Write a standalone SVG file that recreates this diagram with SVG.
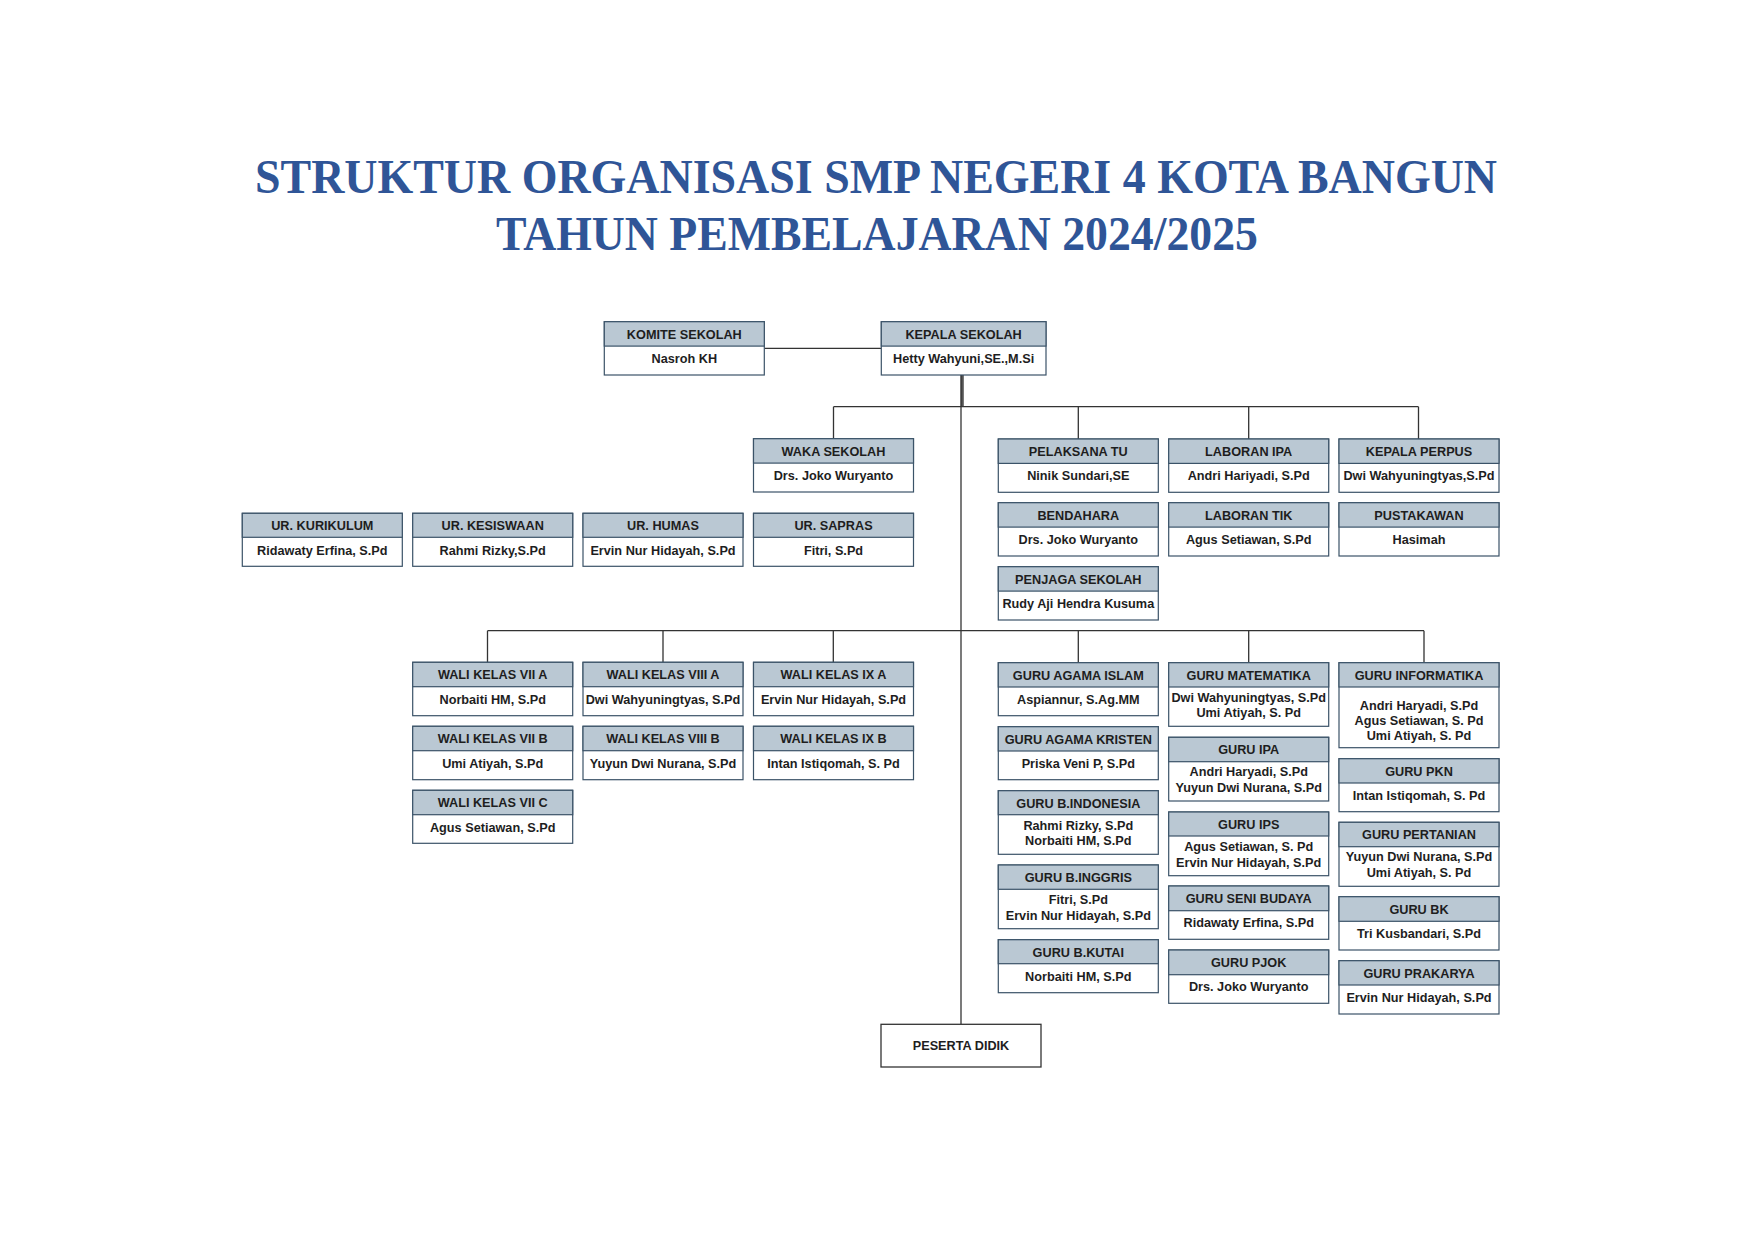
<svg xmlns="http://www.w3.org/2000/svg" width="1754" height="1241" viewBox="0 0 1754 1241">
<style>
.bd{fill:#ffffff;stroke:#3b5368;stroke-width:1.2}
.hd{fill:#bac8d3;stroke:#3b5368;stroke-width:1.2}
.t{font-family:"Liberation Sans",Arial,sans-serif;font-weight:bold;font-size:12.7px;fill:#1e1e1e;text-anchor:middle}
.ttl{font-family:"Liberation Serif","Times New Roman",serif;font-weight:bold;font-size:48px;fill:#2f5597;text-anchor:middle}
.ln{fill:none;stroke:#333333;stroke-width:1.3}
</style>
<rect width="1754" height="1241" fill="#ffffff"/>
<text class="ttl" x="876" y="193.3" textLength="1242" lengthAdjust="spacingAndGlyphs">STRUKTUR ORGANISASI SMP NEGERI 4 KOTA BANGUN</text>
<text class="ttl" x="877" y="250.3" textLength="762" lengthAdjust="spacingAndGlyphs">TAHUN PEMBELAJARAN 2024/2025</text>

<g id="connectors">
<path class="ln" d="M764.3 348.3H881.3"/>
<path d="M962.3 375V407" fill="none" stroke="#555555" stroke-width="3"/>
<path class="ln" d="M961 375V1024.3"/>
<path class="ln" d="M833.5 406.7H1418.5M833.5 406.7V438.7M1078.3 406.7V439M1248.7 406.7V439M1418.5 406.7V439"/>
<path class="ln" d="M487.5 630.7H1424M487.5 630.7V662.3M663 630.7V662.3M833.3 630.7V662.3M1078.3 630.7V662.7M1248.7 630.7V662.7M1424 630.7V662.7"/>
</g>

<g id="komite"><rect class="bd" x="604.3" y="321.7" width="160" height="53.3"/><rect class="hd" x="604.3" y="321.7" width="160" height="24.4"/><text class="t" x="684.3" y="338.5">KOMITE SEKOLAH</text><text class="t" x="684.3" y="363.1">Nasroh KH</text></g>
<g id="kepala"><rect class="bd" x="881.3" y="321.7" width="164.7" height="53.3"/><rect class="hd" x="881.3" y="321.7" width="164.7" height="24.4"/><text class="t" x="963.6" y="338.5">KEPALA SEKOLAH</text><text class="t" x="963.6" y="363.1">Hetty Wahyuni,SE.,M.Si</text></g>
<g id="waka"><rect class="bd" x="753.5" y="438.7" width="160" height="53.3"/><rect class="hd" x="753.5" y="438.7" width="160" height="24.4"/><text class="t" x="833.5" y="455.5">WAKA SEKOLAH</text><text class="t" x="833.5" y="480.1">Drs. Joko Wuryanto</text></g>

<g id="pelaksana-tu"><rect class="bd" x="998.3" y="439" width="160" height="53.3"/><rect class="hd" x="998.3" y="439" width="160" height="24.4"/><text class="t" x="1078.3" y="455.8">PELAKSANA TU</text><text class="t" x="1078.3" y="480.4">Ninik Sundari,SE</text></g>
<g id="laboran-ipa"><rect class="bd" x="1168.7" y="439" width="160" height="53.3"/><rect class="hd" x="1168.7" y="439" width="160" height="24.4"/><text class="t" x="1248.7" y="455.8">LABORAN IPA</text><text class="t" x="1248.7" y="480.4">Andri Hariyadi, S.Pd</text></g>
<g id="kepala-perpus"><rect class="bd" x="1339" y="439" width="160" height="53.3"/><rect class="hd" x="1339" y="439" width="160" height="24.4"/><text class="t" x="1419" y="455.8">KEPALA PERPUS</text><text class="t" x="1419" y="480.4">Dwi Wahyuningtyas,S.Pd</text></g>
<g id="bendahara"><rect class="bd" x="998.3" y="502.7" width="160" height="53.3"/><rect class="hd" x="998.3" y="502.7" width="160" height="24.4"/><text class="t" x="1078.3" y="519.5">BENDAHARA</text><text class="t" x="1078.3" y="544.1">Drs. Joko Wuryanto</text></g>
<g id="laboran-tik"><rect class="bd" x="1168.7" y="502.7" width="160" height="53.3"/><rect class="hd" x="1168.7" y="502.7" width="160" height="24.4"/><text class="t" x="1248.7" y="519.5">LABORAN TIK</text><text class="t" x="1248.7" y="544.1">Agus Setiawan, S.Pd</text></g>
<g id="pustakawan"><rect class="bd" x="1339" y="502.7" width="160" height="53.3"/><rect class="hd" x="1339" y="502.7" width="160" height="24.4"/><text class="t" x="1419" y="519.5">PUSTAKAWAN</text><text class="t" x="1419" y="544.1">Hasimah</text></g>
<g id="penjaga"><rect class="bd" x="998.3" y="566.7" width="160" height="53.3"/><rect class="hd" x="998.3" y="566.7" width="160" height="24.4"/><text class="t" x="1078.3" y="583.5">PENJAGA SEKOLAH</text><text class="t" x="1078.3" y="608.1">Rudy Aji Hendra Kusuma</text></g>

<g id="ur-kurikulum"><rect class="bd" x="242.3" y="513.3" width="160" height="53"/><rect class="hd" x="242.3" y="513.3" width="160" height="24"/><text class="t" x="322.3" y="530.1">UR. KURIKULUM</text><text class="t" x="322.3" y="554.7">Ridawaty Erfina, S.Pd</text></g>
<g id="ur-kesiswaan"><rect class="bd" x="412.7" y="513.3" width="160" height="53"/><rect class="hd" x="412.7" y="513.3" width="160" height="24"/><text class="t" x="492.7" y="530.1">UR. KESISWAAN</text><text class="t" x="492.7" y="554.7">Rahmi Rizky,S.Pd</text></g>
<g id="ur-humas"><rect class="bd" x="583" y="513.3" width="160" height="53"/><rect class="hd" x="583" y="513.3" width="160" height="24"/><text class="t" x="663" y="530.1">UR. HUMAS</text><text class="t" x="663" y="554.7">Ervin Nur Hidayah, S.Pd</text></g>
<g id="ur-sapras"><rect class="bd" x="753.5" y="513.3" width="160" height="53"/><rect class="hd" x="753.5" y="513.3" width="160" height="24"/><text class="t" x="833.5" y="530.1">UR. SAPRAS</text><text class="t" x="833.5" y="554.7">Fitri, S.Pd</text></g>

<g id="wali-7a"><rect class="bd" x="412.7" y="662.3" width="160" height="53.4"/><rect class="hd" x="412.7" y="662.3" width="160" height="24.4"/><text class="t" x="492.7" y="679.1">WALI KELAS VII A</text><text class="t" x="492.7" y="703.7">Norbaiti HM, S.Pd</text></g>
<g id="wali-8a"><rect class="bd" x="583" y="662.3" width="160" height="53.4"/><rect class="hd" x="583" y="662.3" width="160" height="24.4"/><text class="t" x="663" y="679.1">WALI KELAS VIII A</text><text class="t" x="663" y="703.7">Dwi Wahyuningtyas, S.Pd</text></g>
<g id="wali-9a"><rect class="bd" x="753.5" y="662.3" width="160" height="53.4"/><rect class="hd" x="753.5" y="662.3" width="160" height="24.4"/><text class="t" x="833.5" y="679.1">WALI KELAS IX A</text><text class="t" x="833.5" y="703.7">Ervin Nur Hidayah, S.Pd</text></g>
<g id="wali-7b"><rect class="bd" x="412.7" y="726.3" width="160" height="53.4"/><rect class="hd" x="412.7" y="726.3" width="160" height="24.4"/><text class="t" x="492.7" y="743.1">WALI KELAS VII B</text><text class="t" x="492.7" y="767.7">Umi Atiyah, S.Pd</text></g>
<g id="wali-8b"><rect class="bd" x="583" y="726.3" width="160" height="53.4"/><rect class="hd" x="583" y="726.3" width="160" height="24.4"/><text class="t" x="663" y="743.1">WALI KELAS VIII B</text><text class="t" x="663" y="767.7">Yuyun Dwi Nurana, S.Pd</text></g>
<g id="wali-9b"><rect class="bd" x="753.5" y="726.3" width="160" height="53.4"/><rect class="hd" x="753.5" y="726.3" width="160" height="24.4"/><text class="t" x="833.5" y="743.1">WALI KELAS IX B</text><text class="t" x="833.5" y="767.7">Intan Istiqomah, S. Pd</text></g>
<g id="wali-7c"><rect class="bd" x="412.7" y="790.3" width="160" height="53"/><rect class="hd" x="412.7" y="790.3" width="160" height="24.4"/><text class="t" x="492.7" y="807.1">WALI KELAS VII C</text><text class="t" x="492.7" y="831.7">Agus Setiawan, S.Pd</text></g>

<g id="guru-agama-islam"><rect class="bd" x="998.3" y="662.7" width="160" height="53"/><rect class="hd" x="998.3" y="662.7" width="160" height="24.3"/><text class="t" x="1078.3" y="679.5">GURU AGAMA ISLAM</text><text class="t" x="1078.3" y="704.1">Aspiannur, S.Ag.MM</text></g>
<g id="guru-agama-kristen"><rect class="bd" x="998.3" y="726.7" width="160" height="53"/><rect class="hd" x="998.3" y="726.7" width="160" height="24.3"/><text class="t" x="1078.3" y="743.5">GURU AGAMA KRISTEN</text><text class="t" x="1078.3" y="768.1">Priska Veni P, S.Pd</text></g>
<g id="guru-bindonesia"><rect class="bd" x="998.3" y="790.7" width="160" height="63.6"/><rect class="hd" x="998.3" y="790.7" width="160" height="24"/><text class="t" x="1078.3" y="807.5">GURU B.INDONESIA</text><text class="t" x="1078.3" y="829.7">Rahmi Rizky, S.Pd</text><text class="t" x="1078.3" y="845.3">Norbaiti HM, S.Pd</text></g>
<g id="guru-binggris"><rect class="bd" x="998.3" y="865" width="160" height="63.7"/><rect class="hd" x="998.3" y="865" width="160" height="24.3"/><text class="t" x="1078.3" y="881.8">GURU B.INGGRIS</text><text class="t" x="1078.3" y="904">Fitri, S.Pd</text><text class="t" x="1078.3" y="919.6">Ervin Nur Hidayah, S.Pd</text></g>
<g id="guru-bkutai"><rect class="bd" x="998.3" y="939.7" width="160" height="53"/><rect class="hd" x="998.3" y="939.7" width="160" height="24"/><text class="t" x="1078.3" y="956.5">GURU B.KUTAI</text><text class="t" x="1078.3" y="981.1">Norbaiti HM, S.Pd</text></g>

<g id="guru-matematika"><rect class="bd" x="1168.7" y="662.7" width="160" height="63.6"/><rect class="hd" x="1168.7" y="662.7" width="160" height="24.3"/><text class="t" x="1248.7" y="679.5">GURU MATEMATIKA</text><text class="t" x="1248.7" y="701.7">Dwi Wahyuningtyas, S.Pd</text><text class="t" x="1248.7" y="717.3">Umi Atiyah, S. Pd</text></g>
<g id="guru-ipa"><rect class="bd" x="1168.7" y="737.3" width="160" height="63.7"/><rect class="hd" x="1168.7" y="737.3" width="160" height="24.4"/><text class="t" x="1248.7" y="754.1">GURU IPA</text><text class="t" x="1248.7" y="776.3">Andri Haryadi, S.Pd</text><text class="t" x="1248.7" y="791.9">Yuyun Dwi Nurana, S.Pd</text></g>
<g id="guru-ips"><rect class="bd" x="1168.7" y="812" width="160" height="63.7"/><rect class="hd" x="1168.7" y="812" width="160" height="24"/><text class="t" x="1248.7" y="828.8">GURU IPS</text><text class="t" x="1248.7" y="851">Agus Setiawan, S. Pd</text><text class="t" x="1248.7" y="866.6">Ervin Nur Hidayah, S.Pd</text></g>
<g id="guru-seni-budaya"><rect class="bd" x="1168.7" y="886" width="160" height="53.3"/><rect class="hd" x="1168.7" y="886" width="160" height="24.7"/><text class="t" x="1248.7" y="902.8">GURU SENI BUDAYA</text><text class="t" x="1248.7" y="927.4">Ridawaty Erfina, S.Pd</text></g>
<g id="guru-pjok"><rect class="bd" x="1168.7" y="950" width="160" height="53.3"/><rect class="hd" x="1168.7" y="950" width="160" height="24.7"/><text class="t" x="1248.7" y="966.8">GURU PJOK</text><text class="t" x="1248.7" y="991.4">Drs. Joko Wuryanto</text></g>

<g id="guru-informatika"><rect class="bd" x="1339" y="662.7" width="160" height="85"/><rect class="hd" x="1339" y="662.7" width="160" height="24.3"/><text class="t" x="1419" y="679.5">GURU INFORMATIKA</text><text class="t" x="1419" y="710">Andri Haryadi, S.Pd</text><text class="t" x="1419" y="725">Agus Setiawan, S. Pd</text><text class="t" x="1419" y="740">Umi Atiyah, S. Pd</text></g>
<g id="guru-pkn"><rect class="bd" x="1339" y="758.7" width="160" height="53"/><rect class="hd" x="1339" y="758.7" width="160" height="24.3"/><text class="t" x="1419" y="775.5">GURU PKN</text><text class="t" x="1419" y="800.1">Intan Istiqomah, S. Pd</text></g>
<g id="guru-pertanian"><rect class="bd" x="1339" y="822.3" width="160" height="64"/><rect class="hd" x="1339" y="822.3" width="160" height="24.4"/><text class="t" x="1419" y="839.1">GURU PERTANIAN</text><text class="t" x="1419" y="861.3">Yuyun Dwi Nurana, S.Pd</text><text class="t" x="1419" y="876.9">Umi Atiyah, S. Pd</text></g>
<g id="guru-bk"><rect class="bd" x="1339" y="896.7" width="160" height="53.3"/><rect class="hd" x="1339" y="896.7" width="160" height="24.6"/><text class="t" x="1419" y="913.5">GURU BK</text><text class="t" x="1419" y="938.1">Tri Kusbandari, S.Pd</text></g>
<g id="guru-prakarya"><rect class="bd" x="1339" y="960.7" width="160" height="53.3"/><rect class="hd" x="1339" y="960.7" width="160" height="24.3"/><text class="t" x="1419" y="977.5">GURU PRAKARYA</text><text class="t" x="1419" y="1002.1">Ervin Nur Hidayah, S.Pd</text></g>

<g id="peserta-didik"><rect x="881" y="1024.3" width="160" height="42.7" fill="#ffffff" stroke="#333333" stroke-width="1.3"/><text class="t" x="961" y="1050" fill="#333333">PESERTA DIDIK</text></g>
</svg>
